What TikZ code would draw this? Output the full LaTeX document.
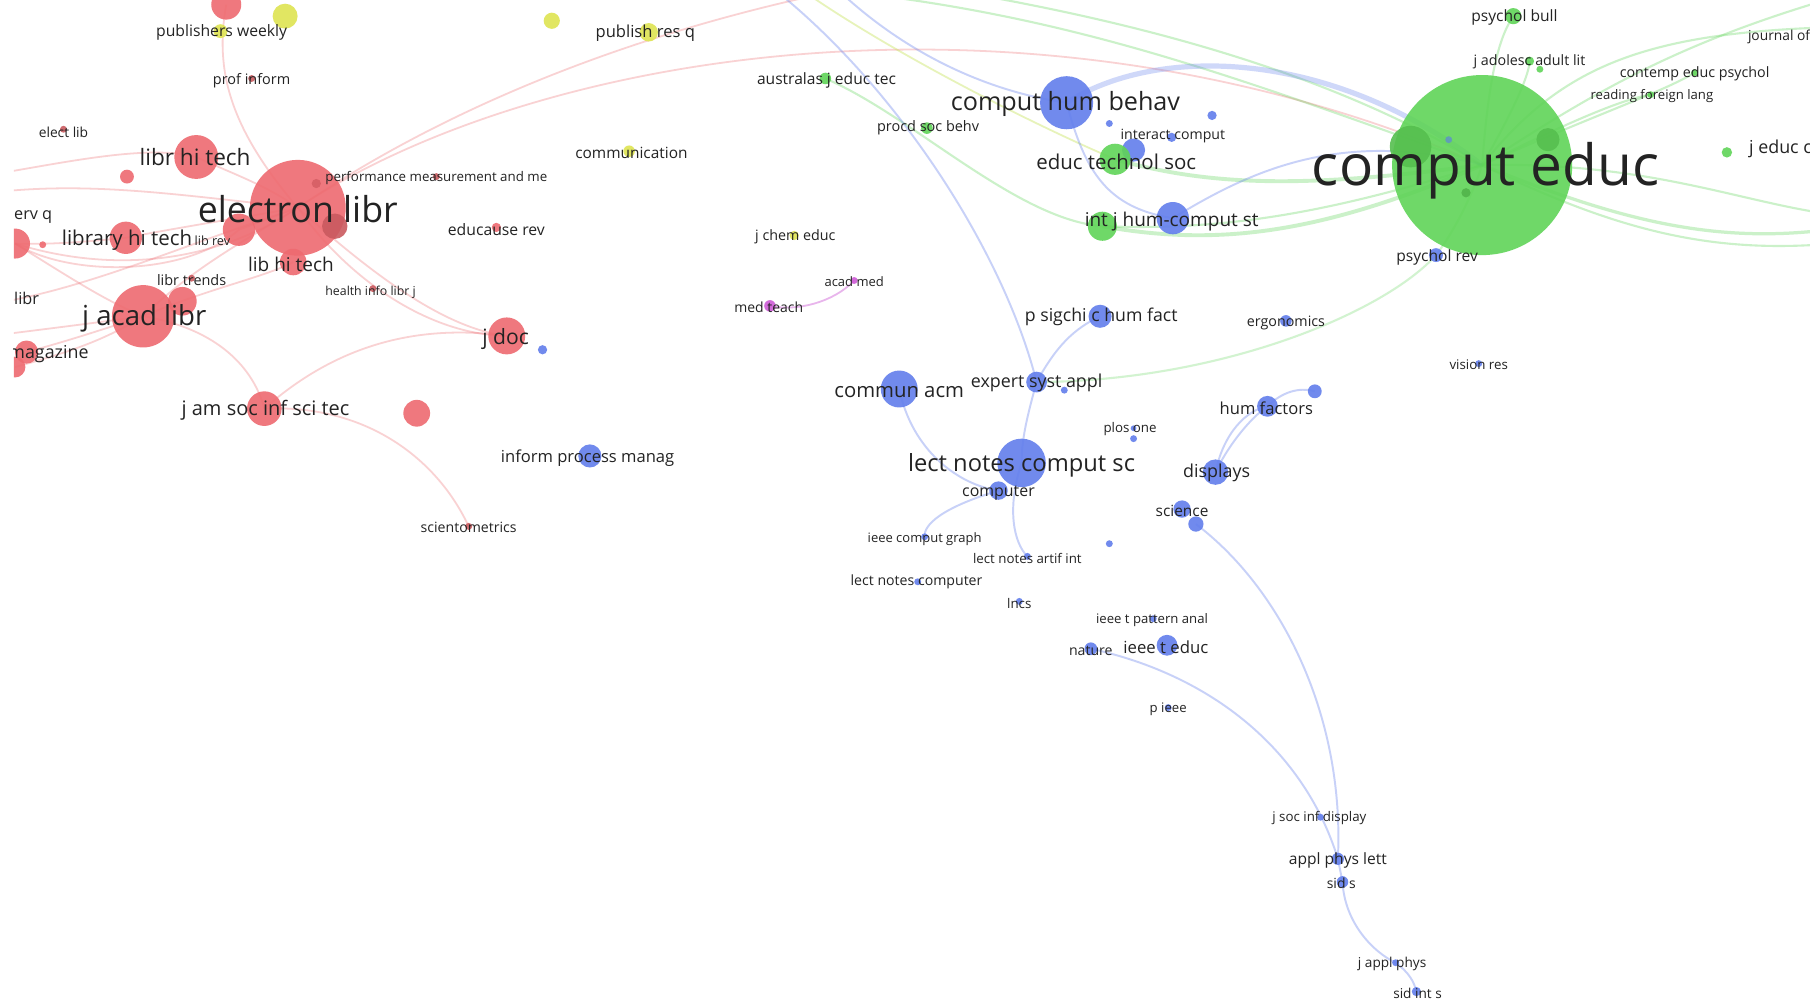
\documentclass[tikz,border=0pt]{standalone}
\usepackage{fontspec}
\setmainfont{Open Sans}
\definecolor{redc}{RGB}{238,106,112}
\definecolor{greenc}{RGB}{96,212,88}
\definecolor{bluec}{RGB}{98,126,236}
\definecolor{yellowc}{RGB}{222,228,82}
\definecolor{purplec}{RGB}{206,92,214}
\definecolor{txtc}{RGB}{35,35,35}
\newcommand{\jc}[3]{\fill[#1,opacity=.9] (#2) circle (#3);}
\tikzset{
  lab/.style={font=\fontsize{#1pt}{#1pt}\selectfont, inner sep=0pt, text=txtc, yshift=-1.3pt},
  redE/.style={draw=redc, opacity=.3, line width=1.1pt},
  greenE/.style={draw=greenc, opacity=.32, line width=1.3pt},
  blueE/.style={draw=bluec, opacity=.35, line width=1.2pt},
  purpE/.style={draw=purplec, opacity=.45, line width=1.1pt},
  yelE/.style={draw=yellowc!80!greenc, opacity=.4, line width=1.1pt}
}
\begin{document}
\begin{tikzpicture}[x=0.025cm,y=-0.025cm]
\useasboundingbox (0,0) rectangle (1568,865);
\fill[white] (0,0) rectangle (1568,865);
\begin{scope}
\clip (12,0) rectangle (1568,865);
% ---------- coordinates ----------
% red
\coordinate (el) at (258,180);
\coordinate (lht) at (170,136);
\coordinate (lyht) at (109,206);
\coordinate (lrev) at (207,199);
\coordinate (elA) at (274,159);
\coordinate (elB) at (290,196);
\coordinate (lbht) at (254,227);
\coordinate (jacad) at (124,274);
\coordinate (jacad2) at (158,261);
\coordinate (ltr) at (166,241);
\coordinate (mag) at (23,305);
\coordinate (mag2) at (13,318);
\coordinate (lefc) at (13,211);
\coordinate (lefd) at (37,212);
\coordinate (elib) at (55,112);
\coordinate (rsm) at (110,153);
\coordinate (pinf) at (218,68);
\coordinate (rtop) at (196,4);
\coordinate (educ) at (430,197);
\coordinate (hil) at (323,250);
\coordinate (jdoc) at (439,291);
\coordinate (jasis) at (229,354);
\coordinate (rx) at (361,358);
\coordinate (scim) at (406,456);
\coordinate (perf) at (378,153);
% yellow
\coordinate (pw) at (191,27);
\coordinate (y2) at (247,14);
\coordinate (y3) at (478,18);
\coordinate (prq) at (562,28);
\coordinate (comm) at (545,131);
\coordinate (jce) at (688,204);
% purple
\coordinate (amed) at (740,243);
\coordinate (mteach) at (667,265);
% blue
\coordinate (chb) at (924,89);
\coordinate (bd1) at (961,107);
\coordinate (bd2) at (1050,100);
\coordinate (icomp) at (1015,119);
\coordinate (etsb) at (982,130);
\coordinate (ijb) at (1016,189);
\coordinate (psig) at (953,274);
\coordinate (esa) at (898,331);
\coordinate (esa2) at (922,338);
\coordinate (cacm) at (779,337);
\coordinate (lncs) at (885,401);
\coordinate (comp) at (865,425);
\coordinate (disp) at (1053,409);
\coordinate (humf) at (1098,352);
\coordinate (hf2) at (1139,339);
\coordinate (ergo) at (1114,278);
\coordinate (plos) at (982,371);
\coordinate (plos2) at (982,380);
\coordinate (sci) at (1024,441);
\coordinate (sci2) at (1036,454);
\coordinate (icg) at (801,465);
\coordinate (lnai) at (890,482);
\coordinate (bdot) at (961,471);
\coordinate (lnc) at (795,504);
\coordinate (lncsm) at (883,521);
\coordinate (itpa) at (999,536);
\coordinate (nat) at (945,562);
\coordinate (ited) at (1011,559);
\coordinate (pieee) at (1012,613);
\coordinate (jsid) at (1144,708);
\coordinate (apl) at (1159,744);
\coordinate (sids) at (1163,764);
\coordinate (jap) at (1209,834);
\coordinate (sidint) at (1227,859);
\coordinate (jdocb) at (470,303);
\coordinate (ipm) at (511,395);
\coordinate (psyrev) at (1244,221);
\coordinate (vres) at (1281,315);
\coordinate (ceb) at (1255,121);
% green
\coordinate (ce) at (1284,143);
\coordinate (ce1) at (1222,127);
\coordinate (ce2) at (1341,121);
\coordinate (ce3) at (1270,167);
\coordinate (etsg) at (966,138);
\coordinate (ijg) at (955,196);
\coordinate (aus) at (715,68);
\coordinate (procd) at (803,111);
\coordinate (pbull) at (1311,14);
\coordinate (jad) at (1325,53);
\coordinate (jad2) at (1334,60);
\coordinate (cep) at (1468,63);
\coordinate (rfl) at (1430,82);
\coordinate (jec) at (1496,132);
% off-frame ends
\coordinate (offA) at (820,-25);
\coordinate (offL1) at (0,150);
\coordinate (offL2) at (0,166);
\coordinate (offL3) at (0,262);
\coordinate (offL4) at (0,290);
\coordinate (offG1) at (640,-15);
\coordinate (offG2) at (720,-25);
\coordinate (offG3) at (1575,24);
\coordinate (offG4) at (1575,2);
\coordinate (offG5) at (1575,200);
\coordinate (offG6) at (1575,212);
\coordinate (offG7) at (1575,184);
\coordinate (offB1) at (676,-5);
\coordinate (offB2) at (730,-5);
\coordinate (offY) at (700,-5);
% ---------- edges ----------
% red
\draw[redE] (rtop) .. controls (186,60) and (198,110) .. (el);
\draw[redE] (el) .. controls (420,70) and (620,5) .. (offA);
\draw[redE] (el) .. controls (470,40) and (900,-25) .. (ce);
\draw[redE] (offL1) .. controls (60,140) and (130,125) .. (lht);
\draw[redE] (lht) .. controls (200,150) and (230,160) .. (el);
\draw[redE] (offL2) .. controls (80,158) and (150,168) .. (el);
\draw[redE] (lefc) .. controls (90,235) and (180,232) .. (el);
\draw[redE] (lefc) .. controls (60,240) and (90,260) .. (jacad);
\draw[redE] (lefc) .. controls (60,240) and (160,240) .. (lrev);
\draw[redE] (offL3) .. controls (80,248) and (160,212) .. (el);
\draw[redE] (lyht) .. controls (150,198) and (200,190) .. (el);
\draw[redE] (lyht) .. controls (70,210) and (40,212) .. (lefc);
\draw[redE] (jacad) .. controls (170,230) and (210,210) .. (el);
\draw[redE] (jacad) .. controls (180,250) and (230,240) .. (lbht);
\draw[redE] (mag) .. controls (60,295) and (90,285) .. (jacad);
\draw[redE] (mag2) .. controls (60,305) and (90,295) .. (jacad);
\draw[redE] (offL4) .. controls (40,285) and (80,280) .. (jacad);
\draw[redE] (jacad) .. controls (190,285) and (220,320) .. (jasis);
\draw[redE] (jasis) .. controls (290,300) and (360,280) .. (jdoc);
\draw[redE] (jasis) .. controls (320,350) and (380,400) .. (scim);
\draw[redE] (el) .. controls (300,240) and (370,290) .. (jdoc);
\draw[redE] (el) .. controls (312,228) and (380,284) .. (jdoc);
\draw[redE] (lrev) -- (el);
% purple
\draw[purpE] (amed) .. controls (722,262) and (690,270) .. (mteach);
% yellow-green
\draw[yelE] (offY) .. controls (780,50) and (900,110) .. (etsg);
% green
\draw[greenE] (ce) .. controls (1050,60) and (900,0) .. (offG1);
\draw[greenE] (ce) .. controls (1100,30) and (850,-5) .. (offG2);
\draw[greenE] (aus) .. controls (790,100) and (880,190) .. (ijg);
\draw[greenE, line width=2.4pt] (ijg) .. controls (1060,215) and (1150,200) .. (ce);
\draw[greenE] (ijg) .. controls (1060,200) and (1150,185) .. (ce);
\draw[greenE, line width=2.4pt] (etsg) .. controls (1060,165) and (1150,160) .. (ce);
\draw[greenE] (ce) .. controls (1350,60) and (1420,30) .. (offG3);
\draw[greenE] (ce) .. controls (1380,80) and (1450,40) .. (offG4);
\draw[greenE, line width=2pt] (ce) .. controls (1400,190) and (1480,210) .. (offG5);
\draw[greenE] (ce) .. controls (1400,200) and (1480,218) .. (offG6);
\draw[greenE] (ce) .. controls (1420,140) and (1500,172) .. (offG7);
\draw[greenE] (ce) .. controls (1290,60) and (1300,30) .. (pbull);
\draw[greenE] (ce) .. controls (1320,80) and (1325,60) .. (jad);
\draw[greenE] (ce) .. controls (1380,100) and (1440,80) .. (cep);
\draw[greenE] (ce) .. controls (1370,100) and (1410,85) .. (rfl);
\draw[greenE, opacity=.28] (esa) .. controls (1060,330) and (1200,270) .. (psyrev);
\draw[greenE, opacity=.28] (psyrev) .. controls (1260,200) and (1275,170) .. (ce);
% blue
\draw[blueE, line width=3.2pt, opacity=.3] (chb) .. controls (1000,40) and (1150,40) .. (ce);
\draw[blueE] (chb) .. controls (940,150) and (960,180) .. (ijb);
\draw[blueE] (ijb) .. controls (1080,150) and (1160,110) .. (ce);
\draw[blueE] (offB1) .. controls (780,80) and (870,220) .. (esa);
\draw[blueE] (offB2) .. controls (790,50) and (860,80) .. (chb);
\draw[blueE] (esa) .. controls (915,300) and (930,285) .. (psig);
\draw[blueE] (esa) .. controls (890,360) and (885,380) .. (lncs);
\draw[blueE] (cacm) .. controls (790,390) and (830,420) .. (comp);
\draw[blueE] (comp) .. controls (815,440) and (800,455) .. (icg);
\draw[blueE] (lncs) .. controls (872,440) and (878,470) .. (lnai);
\draw[blueE] (disp) .. controls (1060,375) and (1080,355) .. (humf);
\draw[blueE] (disp) .. controls (1066,382) and (1086,360) .. (humf);
\draw[blueE] (humf) .. controls (1110,340) and (1125,335) .. (hf2);
\draw[blueE] (sci2) .. controls (1110,510) and (1165,620) .. (apl);
\draw[blueE] (nat) .. controls (1050,585) and (1130,650) .. (apl);
\draw[blueE] (apl) -- (sids);
\draw[blueE] (sids) .. controls (1165,800) and (1190,825) .. (jap);
\draw[blueE] (jap) .. controls (1220,842) and (1225,850) .. (sidint);
% ---------- circles ----------
\jc{redc}{rtop}{13}
\jc{yellowc}{y2}{10.8}
\jc{yellowc}{pw}{6}
\jc{yellowc}{y3}{7}
\jc{yellowc}{prq}{8}
\jc{yellowc}{comm}{5}
\jc{yellowc}{jce}{4}
\jc{redc}{el}{41.5}
\jc{redc!85!black}{elB}{11}
\jc{redc!90!black}{elA}{4}
\jc{redc}{lht}{19}
\jc{redc}{lyht}{14}
\jc{redc}{lrev}{14}
\jc{redc}{lbht}{11.5}
\jc{redc}{jacad}{27}
\jc{redc}{jacad2}{12.4}
\jc{redc!85!black}{ltr}{3}
\jc{redc}{mag}{10}
\jc{redc}{mag2}{9}
\jc{redc}{lefc}{13}
\jc{redc}{lefd}{3}
\jc{redc!85!black}{elib}{3}
\jc{redc}{rsm}{6}
\jc{redc!85!black}{pinf}{3}
\jc{redc}{educ}{4}
\jc{redc!85!black}{hil}{3}
\jc{redc}{jdoc}{16}
\jc{redc}{jasis}{15}
\jc{redc}{rx}{11.6}
\jc{redc!85!black}{scim}{3}
\jc{redc!85!black}{perf}{3}
\jc{purplec}{amed}{3}
\jc{purplec}{mteach}{5}
\jc{greenc}{aus}{5}
\jc{greenc}{procd}{5}
\jc{bluec}{chb}{23}
\jc{bluec}{bd1}{3}
\jc{bluec}{bd2}{4}
\jc{bluec}{icomp}{4}
\jc{bluec}{etsb}{10}
\jc{greenc}{etsg}{13.5}
\jc{greenc}{ijg}{12.6}
\jc{bluec}{ijb}{14}
\jc{bluec}{psig}{10}
\jc{bluec}{esa}{9}
\jc{bluec}{esa2}{3}
\jc{bluec}{cacm}{16}
\jc{bluec}{lncs}{21}
\jc{bluec}{comp}{8}
\jc{bluec}{disp}{11}
\jc{bluec}{humf}{9}
\jc{bluec}{hf2}{6}
\jc{bluec}{ergo}{5}
\jc{bluec}{plos}{2.5}
\jc{bluec}{plos2}{3}
\jc{bluec}{sci}{7.5}
\jc{bluec}{sci2}{6.6}
\jc{bluec}{icg}{3}
\jc{bluec}{lnai}{3}
\jc{bluec}{bdot}{3}
\jc{bluec}{lnc}{3}
\jc{bluec}{lncsm}{3}
\jc{bluec}{itpa}{3}
\jc{bluec}{nat}{5.5}
\jc{bluec}{ited}{9}
\jc{bluec}{pieee}{3}
\jc{bluec}{jsid}{3}
\jc{bluec}{apl}{5.3}
\jc{bluec}{sids}{5}
\jc{bluec}{jap}{3}
\jc{bluec}{sidint}{4}
\jc{bluec}{jdocb}{4}
\jc{bluec}{ipm}{10}
\jc{bluec}{psyrev}{6}
\jc{bluec}{vres}{3}
\jc{greenc}{ce}{78}
\jc{greenc!90!black}{ce1}{18}
\jc{greenc!90!black}{ce2}{10}
\jc{greenc!85!black}{ce3}{4}
\jc{bluec!70!greenc}{ceb}{3}
\jc{greenc}{pbull}{7}
\jc{greenc}{jad}{4}
\jc{greenc}{jad2}{3}
\jc{greenc}{cep}{3}
\jc{greenc}{rfl}{3}
\jc{greenc}{jec}{4.5}
% ---------- labels ----------
\node[lab=9.7] (t-pw) at (192,26) {publishers weekly};
\node[lab=10.2] (t-prq) at (559,27) {publish res q};
\node[lab=8.9] (t-pinf) at (218,68) {prof inform};
\node[lab=8.5] (t-elib) at (55,113) {elect lib};
\node[lab=9.6] (t-aus) at (716,68) {australas j educ tec};
\node[lab=8.9] (t-procd) at (804,109) {procd soc behv};
\node[lab=9.5] (t-comm) at (547,131) {communication};
\node[lab=13.9] (t-lht) at (169,134) {libr hi tech};
\node[lab=8.2] (t-perf) at (378,152) {performance measurement and me};
\node[lab=22, yshift=0.6pt] (t-el) at (258,180) {electron libr};
\node[lab=10, anchor=west] (t-servq) at (12,186) {erv q};
\node[lab=12.6] (t-lyht) at (110,206) {library hi tech};
\node[lab=7.8] (t-lrev) at (184,207) {lib rev};
\node[lab=9.7] (t-educ) at (430,197) {educause rev};
\node[lab=11.7] (t-lbht) at (252,227) {lib hi tech};
\node[lab=8.8] (t-jce) at (689,203) {j chem educ};
\node[lab=8.9] (t-ltr) at (166,241) {libr trends};
\node[lab=8] (t-amed) at (740,242) {acad med};
\node[lab=7.6] (t-hil) at (321,251) {health info libr j};
\node[lab=10, anchor=west] (t-libr) at (12,257) {libr};
\node[lab=8.6] (t-mteach) at (666,264) {med teach};
\node[lab=17, yshift=-0.8pt] (t-jacad) at (125,273) {j acad libr};
\node[lab=13] (t-jdoc) at (438,292) {j doc};
\node[lab=11, anchor=east] (t-mag) at (77,305) {magazine};
\node[lab=12.3] (t-jasis) at (230,354) {j am soc inf sci tec};
\node[lab=10.2] (t-ipm) at (509,395) {inform process manag};
\node[lab=8.7] (t-scim) at (406,455) {scientometrics};
\node[lab=15.5] (t-chb) at (923,88) {comput hum behav};
\node[lab=8.7] (t-icomp) at (1016,116) {interact comput};
\node[lab=12.6] (t-ets) at (967,138) {educ technol soc};
\node[lab=11.7] (t-ij) at (1015,190) {int j hum-comput st};
\node[lab=10.9] (t-psig) at (954,273) {p sigchi c hum fact};
\node[lab=12.5] (t-cacm) at (779,338) {commun acm};
\node[lab=11] (t-esa) at (898,330) {expert syst appl};
\node[lab=10.2] (t-humf) at (1097,352) {hum factors};
\node[lab=8.2] (t-plos) at (979,370) {plos one};
\node[lab=14.6] (t-lncs) at (885,401) {lect notes comput sc};
\node[lab=11] (t-disp) at (1054,408) {displays};
\node[lab=9.8] (t-comp) at (865,425) {computer};
\node[lab=9.5] (t-sci) at (1024,441) {science};
\node[lab=8] (t-icg) at (801,465) {ieee comput graph};
\node[lab=8.2] (t-lnai) at (890,482) {lect notes artif int};
\node[lab=8.7] (t-lnc) at (794,502) {lect notes computer};
\node[lab=8.2] (t-lncsm) at (883,521) {lncs};
\node[lab=8.1] (t-itpa) at (998,535) {ieee t pattern anal};
\node[lab=8.7] (t-nat) at (945,562) {nature};
\node[lab=10.3] (t-ited) at (1010,559) {ieee t educ};
\node[lab=8.1] (t-pieee) at (1012,613) {p ieee};
\node[lab=8.2] (t-jsid) at (1143,707) {j soc inf display};
\node[lab=9.6] (t-apl) at (1159,744) {appl phys lett};
\node[lab=8.6] (t-sids) at (1162,763) {sid s};
\node[lab=8.4] (t-jap) at (1206,833) {j appl phys};
\node[lab=8.4] (t-sidint) at (1228,859) {sid int s};
\node[lab=9.6] (t-pbull) at (1312,13) {psychol bull};
\node[lab=8.5, anchor=west] (t-jof) at (1514,30) {journal of};
\node[lab=8.8] (t-jad) at (1325,52) {j adolesc adult lit};
\node[lab=8.8] (t-cep) at (1468,62) {contemp educ psychol};
\node[lab=8.1] (t-rfl) at (1431,81) {reading foreign lang};
\node[lab=11, anchor=west] (t-jec) at (1515,127) {j educ c};
\node[lab=35, yshift=-2.4pt] (t-ce) at (1287,143) {comput educ};
\node[lab=9.6] (t-psyrev) at (1245,221) {psychol rev};
\node[lab=8.8] (t-ergo) at (1114,278) {ergonomics};
\node[lab=8.2] (t-vres) at (1281,314) {vision res};
\end{scope}
\end{tikzpicture}
\end{document}
